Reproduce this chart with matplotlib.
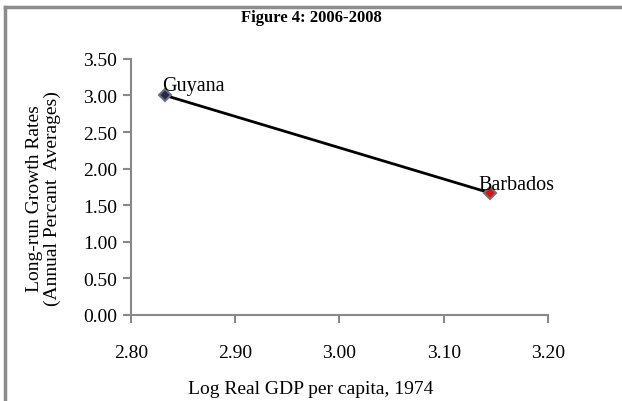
import matplotlib
matplotlib.use("Agg")
import matplotlib.pyplot as plt
from matplotlib.lines import Line2D

plt.rcParams['font.family'] = ['Liberation Serif', 'DejaVu Serif']

countries = ["Guyana", "Barbados"]
log_gdp = [2.833, 3.144]
growth = [3.00, 1.67]
colors = ["#1f2a5c", "#e01010"]

xticks = [2.80, 2.90, 3.00, 3.10, 3.20]
yticks = [0.0, 0.5, 1.0, 1.5, 2.0, 2.5, 3.0, 3.5]

fig = plt.figure(figsize=(6.22, 4.02), dpi=100)
ax = fig.add_axes([0.2106, 0.214, 0.6704, 0.637])

# trend line between the two countries
ax.plot(log_gdp, growth, color="black", lw=2, zorder=2)
for x, y, c in zip(log_gdp, growth, colors):
    ax.plot(x, y, marker="D", ms=6.5, mfc=c, mec="#707070", mew=1.5, zorder=3)

ax.text(log_gdp[0] - 0.003, growth[0] + 0.08, countries[0], fontsize=14.5, ha="left", va="baseline")
ax.text(log_gdp[1] - 0.011, growth[1] + 0.05, countries[1], fontsize=14.5, ha="left", va="baseline")

ax.set_xlim(2.80, 3.20)
ax.set_ylim(0, 3.5)
ax.set_xticks(xticks)
ax.set_yticks(yticks)
ax.set_xticklabels([f"{t:.2f}" for t in xticks], fontsize=14)
ax.set_yticklabels([f"{t:.2f}" for t in yticks], fontsize=14)
ax.tick_params(axis="both", direction="out", length=6, width=1.5, color="#888888")
ax.tick_params(axis="x", pad=15)
ax.tick_params(axis="y", pad=4)
for s in ["top", "right"]:
    ax.spines[s].set_visible(False)
for s in ["left", "bottom"]:
    ax.spines[s].set_color("#888888")
    ax.spines[s].set_linewidth(1.5)

fig.text(0.5, 0.955, "Figure 4: 2006-2008", fontsize=12, fontweight="bold", ha="center", va="center")
fig.text(0.5, 0.03, "Log Real GDP per capita, 1974", fontsize=14, ha="center", va="center")
fig.text(0.07, 0.506, "Long-run Growth Rates\n(Annual Percant  Averages)", fontsize=14,
         ha="center", va="center", rotation=90, linespacing=1.0)

# outer chart border (left and top visible)
fig.add_artist(Line2D([0.0088, 0.0088], [0, 0.981], color="#8c8c8c", lw=2.5, transform=fig.transFigure))
fig.add_artist(Line2D([0.0088, 1.0], [0.981, 0.981], color="#8c8c8c", lw=2.5, transform=fig.transFigure))

fig.savefig("out.png", dpi=100)
